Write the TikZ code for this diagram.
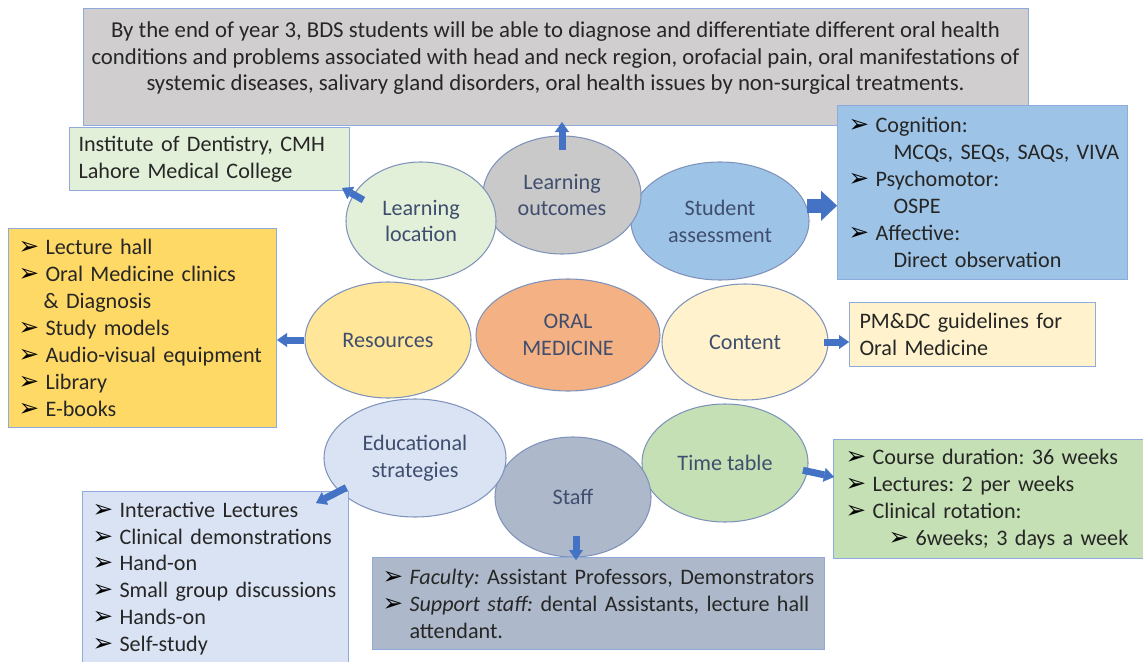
\documentclass[tikz,border=0pt]{standalone}
\usepackage{fontspec}
\setmainfont{Carlito}
\newfontfamily\bulfont{DejaVu Sans}
\usetikzlibrary{calc,positioning,shapes.geometric,arrows.meta}
\frenchspacing

\definecolor{goalfill}{HTML}{D0CECE}
\definecolor{panedge}{HTML}{8FAADC}
\definecolor{ringedge}{HTML}{7F93BA}
\definecolor{topictext}{HTML}{3F4E6E}
\definecolor{feedblue}{HTML}{4472C4}
\definecolor{greenfill}{HTML}{E2F0D9}
\definecolor{grayfill}{HTML}{C9C9C9}
\definecolor{bluefill}{HTML}{9DC3E6}
\definecolor{goldfill}{HTML}{FFD966}
\definecolor{yellowfill}{HTML}{FFE699}
\definecolor{orangefill}{HTML}{F4B183}
\definecolor{creamfill}{HTML}{FFF2CC}
\definecolor{palefill}{HTML}{DAE3F3}
\definecolor{slatefill}{HTML}{ADB9CA}
\definecolor{mintfill}{HTML}{C5E0B4}

\newcommand{\li}[1]{\mbox{\makebox[5.4mm][l]{\smash{\bulfont\fontsize{14}{14}\selectfont\color{black}➢}}#1}}
\newcommand{\sub}[2]{\mbox{\hspace*{#1}#2}}

\begin{document}
\begin{tikzpicture}[
    x=0.2mm, y=-0.2mm,
    font=\fontsize{12.6}{15.3}\selectfont,
    align=center,
    topic/.style={ellipse, draw=ringedge, line width=0.6pt, inner sep=0pt, text=topictext},
    panel/.style={rectangle, draw=panedge, line width=0.6pt, anchor=north west,
      align=left, inner ysep=0pt, text=black!85},
    feed/.style={draw=feedblue, line width=1.4mm,
      -{Triangle[length=2mm, width=2.8mm, line width=0.1pt]}},
    bigfeed/.style={draw=feedblue, line width=2.8mm,
      -{Triangle[length=3.2mm, width=6mm, line width=0.1pt]}},
  ]

  \useasboundingbox (0,0) rectangle (1143,662);
  \clip (0,0) rectangle (1143,662);

  % outcome banner
  \node (goal)     [panel, fill=goalfill, minimum width=189mm, minimum height=23.4mm] at (83,8) {};
  \node (goaltext) [inner sep=0pt, anchor=north, text=black!85,
                    font=\fontsize{12.95}{15.3}\selectfont] at (555.5,21)
    {By the end of year 3, BDS students will be able to diagnose and differentiate different oral health\\
     conditions and problems associated with head and neck region, orofacial pain, oral manifestations of\\
     systemic diseases, salivary gland disorders, oral health issues by non-surgical treatments.};

  \node (site) [panel, fill=greenfill, minimum width=56mm, minimum height=12.6mm,
                text width=52.4mm, inner xsep=1.8mm] at (69,127)
    {Institute of Dentistry, CMH\\ Lahore Medical College};

  \node (exam) [panel, fill=bluefill, minimum width=58mm, minimum height=34.8mm,
                text width=53.6mm, inner xsep=2.2mm] at (837,105)
    {\li{Cognition:}\\ \sub{9mm}{MCQs, SEQs, SAQs, VIVA}\\
     \li{Psychomotor:}\\ \sub{9mm}{OSPE}\\
     \li{Affective:}\\ \sub{9mm}{Direct observation}};

  % ring of topics
  \node (assess) [topic, fill=bluefill, minimum width=35.6mm, minimum height=23.6mm] at (720,221) {Student\\ assessment};
  \node (aims)   [topic, fill=grayfill, minimum width=31.6mm, minimum height=23.6mm] at (562,195) {Learning\\ outcomes};
  \node (loc)    [topic, fill=greenfill, minimum width=30mm, minimum height=23.6mm] at (421,221) {Learning\\ location};

  \node (res)    [topic, fill=yellowfill, minimum width=33.2mm, minimum height=23.2mm] at (388,340) {Resources};
  \node (core)   [topic, fill=orangefill, minimum width=36.8mm, minimum height=22.4mm] at (568,335) {ORAL\\ MEDICINE};
  \node (cont)   [topic, fill=creamfill, minimum width=33.2mm, minimum height=23.2mm] at (745,342) {Content};

  \node (timet)  [topic, fill=mintfill, minimum width=33.2mm, minimum height=23.6mm] at (725,463) {Time table};
  \node (staff)  [topic, fill=slatefill, minimum width=31.2mm, minimum height=24mm] at (573,497) {Staff};
  \node (strat)  [topic, fill=palefill, minimum width=36.4mm, minimum height=23.6mm] at (415,458) {Educational\\ strategies};

  % detail panels
  \node (kit) [panel, fill=goldfill, minimum width=53.6mm, minimum height=39.8mm,
               text width=49.6mm, inner xsep=2mm] at (8,228)
    {\li{Lecture hall}\\ \li{Oral Medicine clinics}\\ \sub{5mm}{\& Diagnosis}\\
     \li{Study models}\\ \li{Audio-visual equipment}\\ \li{Library}\\ \li{E-books}};

  \node (guide) [panel, fill=creamfill, minimum width=49.2mm, minimum height=12.8mm,
                 text width=45.2mm, inner xsep=2mm] at (849,302)
    {PM\&DC guidelines for\\ Oral Medicine};

  \node (sched) [panel, fill=mintfill, minimum width=63mm, minimum height=23.8mm,
                 text width=58.2mm, inner xsep=2.4mm] at (833,439)
    {\li{Course duration: 36 weeks}\\ \li{Lectures: 2 per weeks}\\ \li{Clinical rotation:}\\
     \sub{8.6mm}{\li{6weeks; 3 days a week}}};

  \node (team) [panel, fill=slatefill, minimum width=90.4mm, minimum height=18.4mm,
                text width=86.4mm, inner xsep=2mm] at (372,557)
    {\li{\textit{Faculty:} Assistant Professors, Demonstrators}\\
     \li{\textit{Support staff:} dental Assistants, lecture hall}\\ \sub{5.4mm}{attendant.}};

  \node (method) [panel, fill=palefill, minimum width=53.2mm, minimum height=34.8mm,
                  text width=49.2mm, inner xsep=2mm] at (82,491)
    {\li{Interactive Lectures}\\ \li{Clinical demonstrations}\\ \li{Hand-on}\\
     \li{Small group discussions}\\ \li{Hands-on}\\ \li{Self-study}};

  % flow
  \draw[feed, shorten <=-3mm, shorten >=-0.8mm] (aims.north) -- (aims.north |- goal.south);
  \draw[feed]    ([shift={(11,4)}]loc.160) -- ([shift={(-8,-3)}]site.south east);
  \draw[bigfeed] (assess.10) -- (assess.10 -| exam.west);
  \draw[feed]    (res.west) -- (res.west -| kit.east);
  \draw[feed, shorten <=-1mm] (cont.east) -- (cont.east -| guide.west);
  \draw[feed]    ([shift={(8,-3)}]strat.203) -- ([shift={(-33,12)}]method.north east);
  \draw[feed]    ([shift={(3,-22)}]staff.south) -- ([shift={(204,3)}]team.north west);
  \draw[feed]    ([xshift=-1mm]timet.-5) -- ([shift={(1,38)}]sched.north west);

\end{tikzpicture}
\end{document}
